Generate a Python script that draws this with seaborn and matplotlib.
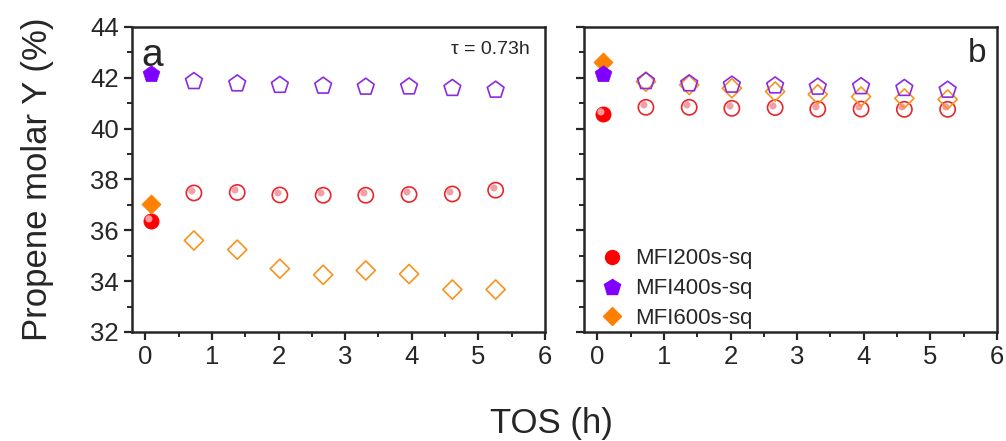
import numpy as np
import pandas as pd
import matplotlib
matplotlib.use("Agg")
import matplotlib.pyplot as plt
import seaborn as sns
from matplotlib.lines import Line2D
from matplotlib.markers import MarkerStyle
from matplotlib.transforms import Affine2D
from matplotlib.ticker import MultipleLocator

# time on stream (h)
tos = [0.08, 0.73, 1.38, 2.02, 2.67, 3.31, 3.96, 4.61, 5.26]

# panel a, tau = 0.73 h
mfi200_a = [36.36, 37.47, 37.49, 37.39, 37.38, 37.38, 37.41, 37.43, 37.58]
mfi400_a = [42.14, 41.86, 41.77, 41.71, 41.68, 41.64, 41.65, 41.59, 41.52]
mfi600_a = [37.03, 35.60, 35.24, 34.49, 34.25, 34.42, 34.28, 33.67, 33.67]

# panel b
mfi200_b = [40.58, 40.84, 40.84, 40.80, 40.83, 40.77, 40.77, 40.76, 40.76]
mfi400_b = [42.14, 41.86, 41.77, 41.72, 41.69, 41.64, 41.66, 41.59, 41.52]
mfi600_b = [42.63, 41.85, 41.72, 41.59, 41.46, 41.35, 41.26, 41.19, 41.15]

samples = ["MFI200s-sq", "MFI400s-sq", "MFI600s-sq"]
colors = {"MFI200s-sq": "#ff0000", "MFI400s-sq": "#8000ff", "MFI600s-sq": "#ff8000"}
hollow_colors = {"MFI200s-sq": "#e8262a", "MFI400s-sq": "#8a2be2", "MFI600s-sq": "#f7931e"}
markers = {"MFI200s-sq": "o", "MFI400s-sq": "p", "MFI600s-sq": "D"}
sizes = {"MFI200s-sq": 120, "MFI400s-sq": 160, "MFI600s-sq": 95}

rows = []
for panel, series in [("a", [mfi200_a, mfi400_a, mfi600_a]),
                      ("b", [mfi200_b, mfi400_b, mfi600_b])]:
    for name, vals in zip(samples, series):
        for i, (t, y) in enumerate(zip(tos, vals)):
            rows.append({"panel": panel, "sample": name, "tos": t, "Y": y, "first": i == 0})
df = pd.DataFrame(rows)

sns.set_style("ticks")
plt.rcParams["font.family"] = ["Liberation Sans", "DejaVu Sans"]

fig = plt.figure(figsize=(10.06, 4.41), dpi=100)
ax_a = fig.add_axes([0.1312, 0.2472, 0.4105, 0.6916])
ax_b = fig.add_axes([0.5805, 0.2472, 0.4105, 0.6916])

# sphere highlight marker, small dot shifted to the upper left
hl = MarkerStyle("o", transform=Affine2D().scale(0.38).translate(-0.17, 0.17))

for ax, panel in [(ax_a, "a"), (ax_b, "b")]:
    sub = df[df["panel"] == panel]
    for name in ["MFI200s-sq", "MFI600s-sq", "MFI400s-sq"]:
        d = sub[sub["sample"] == name]
        first = d[d["first"]]
        rest = d[~d["first"]]
        sns.scatterplot(data=rest, x="tos", y="Y", ax=ax, marker=markers[name],
                        s=sizes[name], facecolors="none",
                        edgecolor=hollow_colors[name], linewidth=1.2, zorder=3)
        sns.scatterplot(data=first, x="tos", y="Y", ax=ax, marker=markers[name],
                        s=sizes[name], color=colors[name], edgecolor=colors[name],
                        linewidth=0.5, zorder=4)
        if name == "MFI200s-sq":
            ax.plot(rest["tos"], rest["Y"], linestyle="none", marker=hl,
                    markersize=11, color="#f2a0a8", zorder=3)
            ax.plot(first["tos"], first["Y"], linestyle="none", marker=hl,
                    markersize=11, color="#ff9aa0", zorder=5)

    ax.set_xlim(-0.2, 6)
    ax.set_ylim(32, 44)
    ax.xaxis.set_major_locator(MultipleLocator(1))
    ax.xaxis.set_minor_locator(MultipleLocator(0.5))
    ax.yaxis.set_major_locator(MultipleLocator(2))
    ax.yaxis.set_minor_locator(MultipleLocator(1))
    ax.tick_params(which="major", direction="out", length=6, width=1.6, labelsize=18.5)
    ax.tick_params(which="minor", direction="out", length=3.5, width=1.4)
    for sp in ax.spines.values():
        sp.set_linewidth(1.8)
        sp.set_visible(True)
    ax.set_xlabel("")
    ax.set_ylabel("")

ax_b.tick_params(labelleft=False)
ax_a.set_ylabel("Propene molar Y (%)", fontsize=25, labelpad=26)
fig.text(0.548, 0.04, "TOS (h)", fontsize=25, ha="center", va="center")

ax_a.text(0.022, 0.965, "a", transform=ax_a.transAxes, fontsize=28, ha="left", va="top")
ax_b.text(0.975, 0.965, "b", transform=ax_b.transAxes, fontsize=24, ha="right", va="top")
ax_a.text(0.963, 0.955, "\u03c4 = 0.73h", transform=ax_a.transAxes, fontsize=14,
          ha="right", va="top")

handles = [Line2D([], [], linestyle="none", marker=markers[n], color=colors[n],
                  markersize={"o": 10, "p": 12, "D": 9}[markers[n]]) for n in samples]
ax_b.legend(handles, samples, loc="lower left", frameon=False, fontsize=16,
            handlelength=1.0, handletextpad=0.55, labelspacing=0.4,
            borderaxespad=0.0, bbox_to_anchor=(0.02, -0.02))

fig.savefig("out.png", dpi=100)
